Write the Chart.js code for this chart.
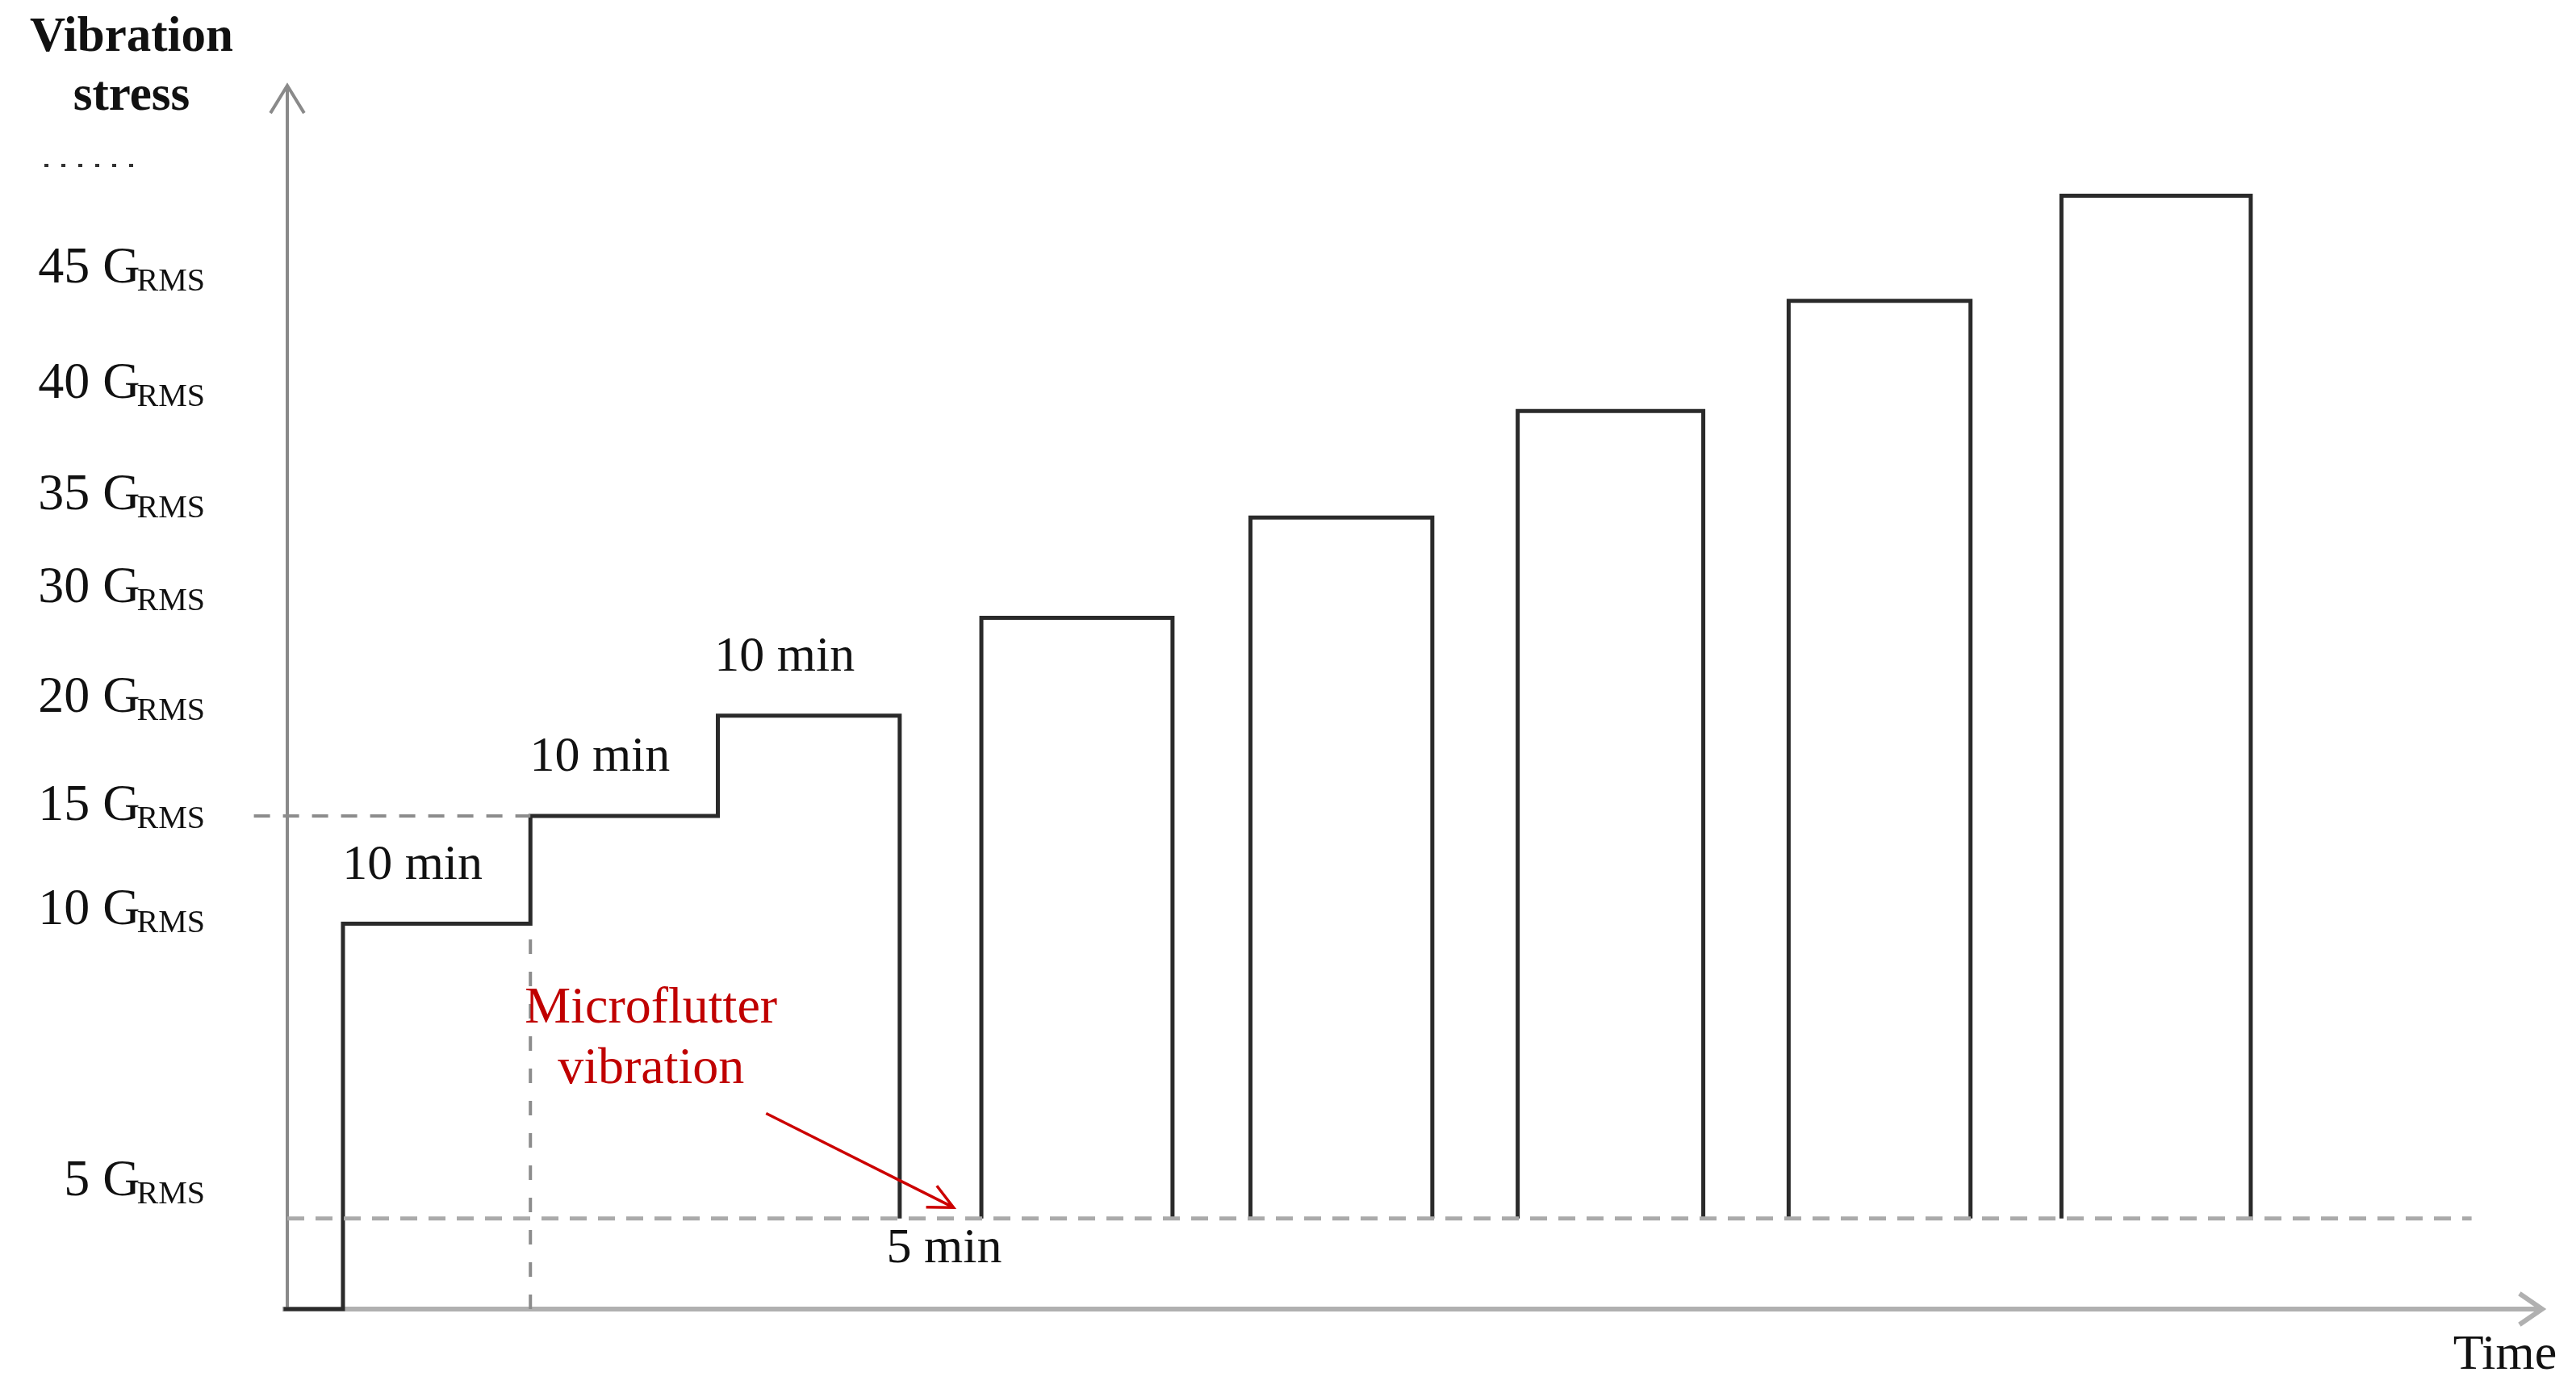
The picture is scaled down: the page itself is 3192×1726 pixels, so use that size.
<!DOCTYPE html>
<html>
<head>
<meta charset="utf-8">
<script src="https://cdn.jsdelivr.net/npm/chart.js@4.4.1/dist/chart.umd.min.js"></script>
<style>
    html, body { margin: 0; padding: 0; background: #ffffff; }
    #wrap { width: 3192px; height: 1726px; position: relative; }
</style>
</head>
<body>
<div id="wrap"><canvas id="grafico"></canvas></div>
<script>
// Schematic units: x = time (min), y = stress level height on the drawing
const stressLabels = ['45', '40', '35', '30', '20', '15', '10', '5'];
const stressLabelLevels = [85.2, 75.8, 66.7, 59.1, 50.1, 41.3, 32.8, 10.6];

const blockStart = [3.0, 13.1, 23.2, 37.4, 51.9, 66.3, 80.9, 95.6];
const blockEnd = [13.1, 23.2, 33.0, 47.7, 61.7, 76.3, 90.7, 105.8];
const blockLevel = [31.5, 40.3, 48.5, 56.5, 64.7, 73.4, 82.4, 91.0];

const microflutterLevel = 7.4;
const microflutterEnd = 117.7;
const durationLabels = ['10 min', '10 min', '10 min'];
const gapLabel = '5 min';

const FONT = '"Liberation Serif", "DejaVu Serif", serif';
const LINE = '#2a2a2a';

// escada inicial (10 -> 15 -> 20 GRMS) que cai no nivel de microflutter
function montarEscada() {
    let pts = [{ x: -0.2, y: 0 }];
    for (let i = 0; i < 3; i++) {
        pts.push({ x: blockStart[i], y: i === 0 ? 0 : blockLevel[i - 1] });
        pts.push({ x: blockStart[i], y: blockLevel[i] });
        pts.push({ x: blockEnd[i], y: blockLevel[i] });
    }
    pts.push({ x: blockEnd[2], y: microflutterLevel });
    return pts;
}

function linha(data, extra) {
    return Object.assign({
        data: data,
        showLine: true,
        borderColor: LINE,
        borderWidth: 5,
        pointRadius: 0,
        tension: 0,
        fill: false,
        clip: false
    }, extra || {});
}

const datasets = [];

// linhas tracejadas de referencia
datasets.push(linha([{ x: 0, y: microflutterLevel }, { x: microflutterEnd, y: microflutterLevel }],
    { borderColor: '#aaaaaa', borderWidth: 5, borderDash: [21, 14] }));
datasets.push(linha([{ x: -1.8, y: blockLevel[1] }, { x: blockStart[1], y: blockLevel[1] }],
    { borderColor: '#8c8c8c', borderWidth: 4, borderDash: [20, 16] }));
datasets.push(linha([{ x: blockStart[1], y: 0 }, { x: blockStart[1], y: blockLevel[0] }],
    { borderColor: '#8c8c8c', borderWidth: 4, borderDash: [18, 22] }));

datasets.push(linha(montarEscada()));

for (let i = 3; i < blockStart.length; i++) {
    datasets.push(linha([
        { x: blockStart[i], y: microflutterLevel },
        { x: blockStart[i], y: blockLevel[i] },
        { x: blockEnd[i], y: blockLevel[i] },
        { x: blockEnd[i], y: microflutterLevel }
    ]));
}

function seta(ctx, x1, y1, x2, y2, asa, ang) {
    const a = Math.atan2(y2 - y1, x2 - x1);
    ctx.beginPath();
    ctx.moveTo(x1, y1);
    ctx.lineTo(x2, y2);
    ctx.moveTo(x2 - asa * Math.cos(a - ang), y2 - asa * Math.sin(a - ang));
    ctx.lineTo(x2, y2);
    ctx.lineTo(x2 - asa * Math.cos(a + ang), y2 - asa * Math.sin(a + ang));
    ctx.stroke();
}

const decoracao = {
    id: 'decoracao',
    beforeDatasetsDraw(chart) {
        const ctx = chart.ctx;
        const xs = chart.scales.x, ys = chart.scales.y;
        const x0 = xs.getPixelForValue(0), y0 = ys.getPixelForValue(0);
        ctx.save();
        ctx.lineCap = 'butt';
        // eixo x
        ctx.strokeStyle = '#b0b0b0';
        ctx.lineWidth = 6;
        seta(ctx, x0 - 6, y0, xs.getPixelForValue(xs.max), y0, 34, 0.6);
        // eixo y
        ctx.strokeStyle = '#8a8a8a';
        ctx.lineWidth = 4;
        seta(ctx, x0, y0 + 2, x0, ys.getPixelForValue(ys.max), 40, 0.55);
        ctx.restore();
    },
    afterDraw(chart) {
        const ctx = chart.ctx;
        const xs = chart.scales.x, ys = chart.scales.y;
        ctx.save();
        ctx.fillStyle = '#111111';

        // titulo do eixo y
        ctx.font = 'bold 61px ' + FONT;
        ctx.textAlign = 'center';
        ctx.textBaseline = 'middle';
        ctx.fillText('Vibration', 163, 47);
        ctx.fillText('stress', 163, 120);
        // "......" logo abaixo do titulo
        ctx.fillStyle = '#333333';
        for (let i = 0; i < 6; i++) {
            ctx.fillRect(55 + i * 21, 203, 5, 4);
        }
        ctx.fillStyle = '#111111';

        // rotulos GRMS
        const right = 254;
        for (let i = 0; i < stressLabels.length; i++) {
            const py = ys.getPixelForValue(stressLabelLevels[i]);
            ctx.textAlign = 'right';
            ctx.textBaseline = 'alphabetic';
            ctx.font = '40px ' + FONT;
            const wSub = ctx.measureText('RMS').width;
            ctx.fillText('RMS', right, py + 30);
            ctx.font = '64px ' + FONT;
            ctx.fillText(stressLabels[i] + ' G', right - wSub + 4, py + 20);
        }

        // duracoes
        ctx.font = '62px ' + FONT;
        ctx.textAlign = 'center';
        ctx.textBaseline = 'middle';
        for (let i = 0; i < durationLabels.length; i++) {
            const px = (xs.getPixelForValue(blockStart[i]) + xs.getPixelForValue(blockEnd[i])) / 2 - 30;
            const py = ys.getPixelForValue(blockLevel[i]) - 72;
            ctx.fillText(durationLabels[i], px, py);
        }
        ctx.fillText(gapLabel, xs.getPixelForValue(35.4), ys.getPixelForValue(microflutterLevel) + 38);

        // Time
        ctx.fillText('Time', xs.getPixelForValue(xs.max) - 46, ys.getPixelForValue(0) + 58);

        // microflutter
        ctx.fillStyle = '#c00000';
        ctx.font = '64px ' + FONT;
        ctx.fillText('Microflutter', xs.getPixelForValue(19.6), ys.getPixelForValue(24.5));
        ctx.fillText('vibration', xs.getPixelForValue(19.6), ys.getPixelForValue(19.6));
        ctx.strokeStyle = '#cc0000';
        ctx.lineWidth = 3.5;
        seta(ctx, xs.getPixelForValue(25.8), ys.getPixelForValue(16.0),
            xs.getPixelForValue(35.9), ys.getPixelForValue(8.3), 34, 0.45);
        ctx.restore();
    }
};

const grafico = new Chart(document.getElementById('grafico').getContext('2d'), {
    type: 'scatter',
    data: { datasets: datasets },
    options: {
        responsive: true,
        maintainAspectRatio: false,
        animation: false,
        layout: { padding: { left: 310, right: 42, top: 106, bottom: 104 } },
        plugins: {
            legend: { display: false },
            tooltip: { enabled: false }
        },
        scales: {
            x: { type: 'linear', min: -2, max: 121.5, display: false },
            y: { type: 'linear', min: 0, max: 100, display: false }
        }
    },
    plugins: [decoracao]
});
</script>
</body>
</html>
